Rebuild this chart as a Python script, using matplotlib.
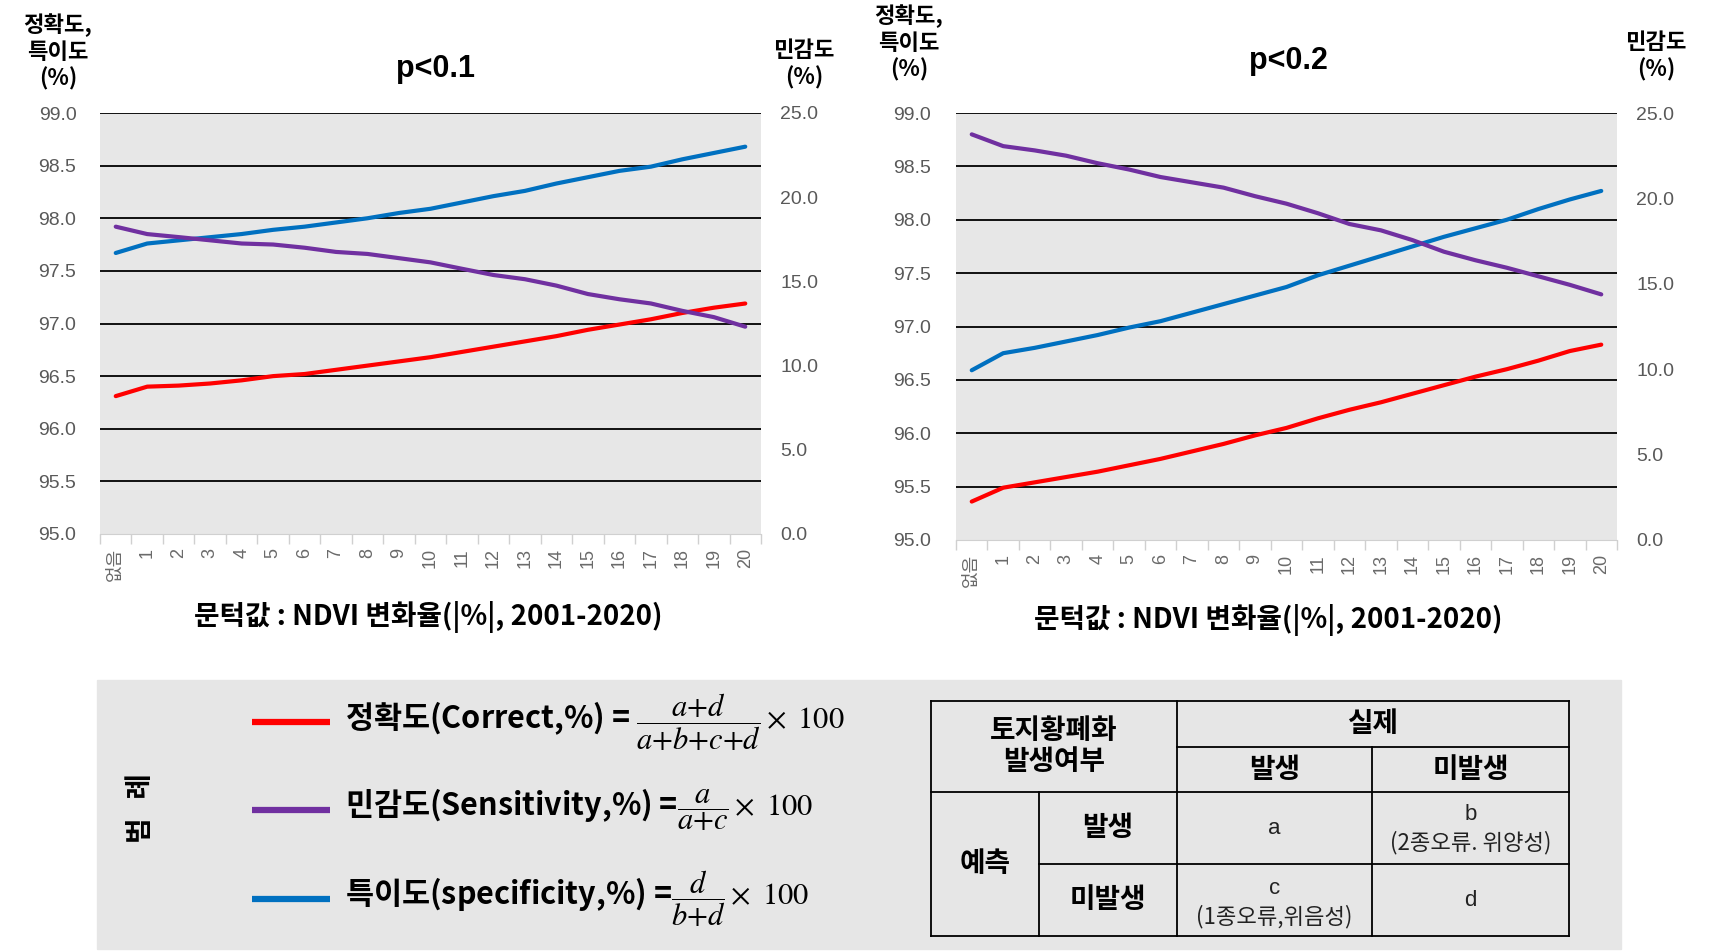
import numpy as np
import matplotlib
matplotlib.use('Agg')
import matplotlib.pyplot as plt
from matplotlib.ticker import FormatStrFormatter
from matplotlib.patches import Rectangle

plt.rcParams['font.family'] = ['Liberation Sans', 'Noto Sans CJK KR']
plt.rcParams['mathtext.fontset'] = 'stix'
KR = ['Noto Sans CJK KR', 'Liberation Sans']

# x categories: threshold of NDVI change rate
categories = ['없음'] + [str(i) for i in range(1, 21)]

# p<0.1
acc_01 = [96.31, 96.40, 96.41, 96.43, 96.46, 96.50, 96.52, 96.56, 96.60, 96.64, 96.68,
          96.73, 96.78, 96.83, 96.88, 96.94, 96.99, 97.04, 97.10, 97.15, 97.19]
spec_01 = [97.67, 97.76, 97.79, 97.82, 97.85, 97.89, 97.92, 97.96, 98.00, 98.05, 98.09,
           98.15, 98.21, 98.26, 98.33, 98.39, 98.45, 98.49, 98.56, 98.62, 98.68]
sens_01 = [18.25, 17.81, 17.63, 17.44, 17.25, 17.19, 17.00, 16.75, 16.63, 16.38, 16.13,
           15.75, 15.38, 15.13, 14.75, 14.25, 13.94, 13.69, 13.25, 12.88, 12.31]

# p<0.2
acc_02 = [95.36, 95.49, 95.54, 95.59, 95.64, 95.70, 95.76, 95.83, 95.90, 95.98, 96.05,
          96.14, 96.22, 96.29, 96.37, 96.45, 96.53, 96.60, 96.68, 96.77, 96.83]
spec_02 = [96.59, 96.75, 96.80, 96.86, 96.92, 96.99, 97.05, 97.13, 97.21, 97.29, 97.37,
           97.48, 97.57, 97.66, 97.75, 97.84, 97.92, 98.00, 98.10, 98.19, 98.27]
sens_02 = [23.75, 23.06, 22.81, 22.50, 22.06, 21.69, 21.25, 20.94, 20.63, 20.13, 19.69,
           19.13, 18.50, 18.13, 17.56, 16.88, 16.38, 15.94, 15.44, 14.94, 14.38]

left_ticks = np.arange(95, 99.01, 0.5)
right_ticks = np.arange(0, 25.01, 5)

legend_names = ['정확도(Correct,%) = ', '민감도(Sensitivity,%) =', '특이도(specificity,%) =']
legend_formulas = [r'$\dfrac{a{+}d}{a{+}b{+}c{+}d}\times\ 100$',
                   r'$\dfrac{a}{a{+}c}\times\ 100$',
                   r'$\dfrac{d}{b{+}d}\times\ 100$']

RED = '#FF0000'
PURPLE = '#7030A0'
BLUE = '#0070C0'
GRAY = '#595959'
LIGHT = '#d0d0d0'
PLOT_BG = '#e7e7e7'
PANEL_BG = '#e6e6e6'

W, H = 1712, 951
fig = plt.figure(figsize=(W / 100, H / 100), dpi=100)

# overlay in pixel coords for labels, legend panel and table
ov = fig.add_axes([0, 0, 1, 1], zorder=0)
ov.set_xlim(0, W)
ov.set_ylim(H, 0)
ov.axis('off')


def box(x0, y0, x1, y1):
    return [x0 / W, 1 - y1 / H, (x1 - x0) / W, (y1 - y0) / H]


def draw_chart(rect, acc, spec, sens, lpad):
    ax = fig.add_axes(rect, zorder=1)
    x = np.arange(len(categories))
    ax.set_facecolor(PLOT_BG)
    for v in left_ticks[1:]:
        ax.axhline(v, color='black', lw=1.3, zorder=1)
    ax.plot(x, acc, color=RED, lw=3, zorder=3, solid_joinstyle='round', solid_capstyle='round')
    ax.plot(x, spec, color=BLUE, lw=3, zorder=3, solid_joinstyle='round', solid_capstyle='round')
    ax.set_xlim(-0.5, len(x) - 0.5)
    ax.set_ylim(95, 99)
    ax.set_yticks(left_ticks)
    ax.yaxis.set_major_formatter(FormatStrFormatter('%.1f'))
    ax.set_xticks(x)
    ax.set_xticklabels(categories, rotation=90)
    ax.set_xticks(np.arange(-0.5, len(x)), minor=True)
    ax.tick_params(axis='x', which='major', length=0, pad=10, labelsize=13, labelcolor='#6a6a6a')
    ax.tick_params(axis='x', which='minor', length=7, color=LIGHT, width=1)
    ax.tick_params(axis='y', length=0, pad=lpad, labelsize=14, labelcolor=GRAY)
    for s in ['left', 'right', 'top']:
        ax.spines[s].set_visible(False)
    ax.spines['bottom'].set_color(LIGHT)

    ax2 = ax.twinx()
    ax2.plot(x, sens, color=PURPLE, lw=3, solid_joinstyle='round', solid_capstyle='round')
    ax2.set_ylim(0, 25)
    ax2.set_yticks(right_ticks)
    ax2.yaxis.set_major_formatter(FormatStrFormatter('%.1f'))
    ax2.tick_params(axis='y', length=0, pad=14, labelsize=14, labelcolor=GRAY)
    for s in ax2.spines.values():
        s.set_visible(False)
    return ax


draw_chart(box(100, 113, 761, 534), acc_01, spec_01, sens_01, 17)
draw_chart(box(956, 113, 1617, 540), acc_02, spec_02, sens_02, 18)

# chart titles and axis labels
ov.text(436, 69, 'p<0.1', fontsize=22, weight='bold', ha='center', va='center')
ov.text(1288, 61, 'p<0.2', fontsize=22, weight='bold', ha='center', va='center')
for cx, cy in [(58, 52), (909, 43)]:
    ov.text(cx, cy, '정확도,\n특이도\n(%)', fontsize=16, weight='bold', ha='center',
            va='center', family=KR, linespacing=1.2)
for cx, cy in [(804, 64), (1656, 56)]:
    ov.text(cx, cy, '민감도\n(%)', fontsize=16, weight='bold', ha='center',
            va='center', family=KR, linespacing=1.2)
xlab = '문턱값 : NDVI 변화율(|%|, 2001-2020)'
ov.text(428, 617, xlab, fontsize=20, weight='bold', ha='center', va='center', family=KR)
ov.text(1268, 620, xlab, fontsize=20, weight='bold', ha='center', va='center', family=KR)

# legend panel
ov.add_patch(Rectangle((97, 680), 1621 - 97, 949 - 680, color=PANEL_BG, zorder=0))
ov.text(141, 808, '범   례', rotation=90, fontsize=20, weight='bold', ha='center',
        va='center', family=KR)
for i, (name, frm, col) in enumerate(zip(legend_names, legend_formulas, [RED, PURPLE, BLUE])):
    y = [722, 810, 899][i]
    ov.plot([252, 330], [y, y], color=col, lw=4.5, solid_capstyle='butt')
    ov.text(345, y, name + frm, fontsize=22, weight='bold', ha='left', va='center', family=KR)

# confusion table
xs = [931, 1039, 1177, 1372, 1569]
ys = [701, 747, 792, 864, 936]
lk = dict(color='black', lw=1.3, solid_capstyle='projecting')
ov.plot([xs[0], xs[4]], [ys[0], ys[0]], **lk)
ov.plot([xs[2], xs[4]], [ys[1], ys[1]], **lk)
ov.plot([xs[0], xs[4]], [ys[2], ys[2]], **lk)
ov.plot([xs[1], xs[4]], [ys[3], ys[3]], **lk)
ov.plot([xs[0], xs[4]], [ys[4], ys[4]], **lk)
ov.plot([xs[0], xs[0]], [ys[0], ys[4]], **lk)
ov.plot([xs[1], xs[1]], [ys[2], ys[4]], **lk)
ov.plot([xs[2], xs[2]], [ys[0], ys[4]], **lk)
ov.plot([xs[3], xs[3]], [ys[1], ys[4]], **lk)
ov.plot([xs[4], xs[4]], [ys[0], ys[4]], **lk)

hb = dict(fontsize=20, weight='bold', ha='center', va='center', family=KR)
ov.text((xs[0] + xs[2]) / 2, (ys[0] + ys[2]) / 2, '토지황폐화\n발생여부', linespacing=1.1, **hb)
ov.text((xs[2] + xs[4]) / 2, (ys[0] + ys[1]) / 2, '실제', **hb)
ov.text((xs[2] + xs[3]) / 2, (ys[1] + ys[2]) / 2, '발생', **hb)
ov.text((xs[3] + xs[4]) / 2, (ys[1] + ys[2]) / 2, '미발생', **hb)
ov.text((xs[0] + xs[1]) / 2, (ys[2] + ys[4]) / 2, '예측', **hb)
ov.text((xs[1] + xs[2]) / 2, (ys[2] + ys[3]) / 2, '발생', **hb)
ov.text((xs[1] + xs[2]) / 2, (ys[3] + ys[4]) / 2, '미발생', **hb)

cb = dict(ha='center', va='center', color='#222222')
ov.text((xs[2] + xs[3]) / 2, (ys[2] + ys[3]) / 2, 'a', fontsize=16, **cb)
ov.text((xs[3] + xs[4]) / 2, 815, 'b', fontsize=16, **cb)
ov.text((xs[3] + xs[4]) / 2, 843, '(2종오류. 위양성)', family=KR, fontsize=16, **cb)
ov.text((xs[2] + xs[3]) / 2, 888, 'c', fontsize=16, **cb)
ov.text((xs[2] + xs[3]) / 2, 917, '(1종오류,위음성)', family=KR, fontsize=16, **cb)
ov.text((xs[3] + xs[4]) / 2, (ys[3] + ys[4]) / 2, 'd', fontsize=16, **cb)

fig.savefig('out.png', dpi=100)
